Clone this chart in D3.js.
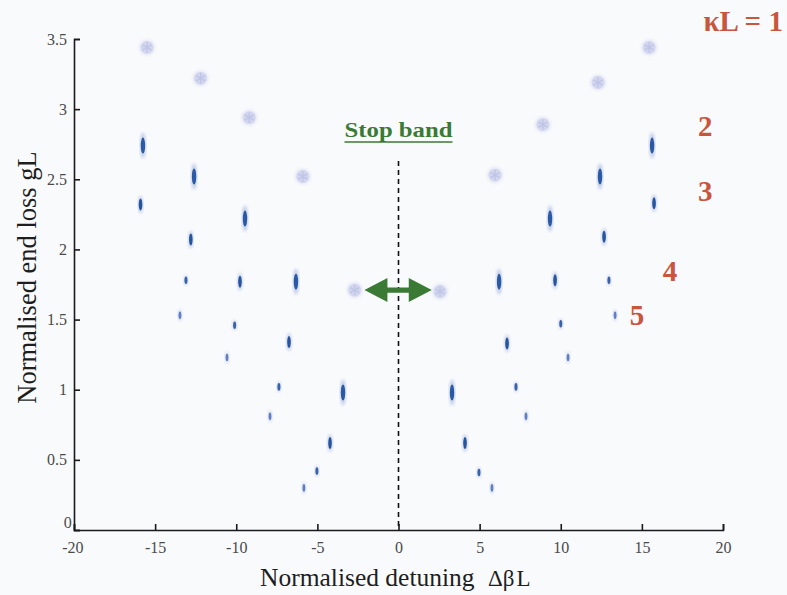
<!DOCTYPE html>
<html>
<head>
<meta charset="utf-8">
<script src="https://cdn.jsdelivr.net/npm/d3@7/dist/d3.min.js"></script>
<style>
  html, body { margin: 0; padding: 0; background: #f9fafc; }
  svg { display: block; }
</style>
</head>
<body>
<svg id="chart" width="787" height="595"></svg>
<script>
// Axis ticks
const detuningTicks = [-20, -15, -10, -5, 0, 5, 10, 15, 20];
const endLossTicks = [0, 0.5, 1, 1.5, 2, 2.5, 3, 3.5];

// Coupling strengths of the plotted mode families
const kappaL = [1, 2, 3, 4, 5];

// Threshold modes: normalised detuning ΔβL and normalised end loss gL
const detuningK1 = [-15.5, -12.2, -9.2, -5.9, -2.7, 2.56, 5.95, 8.9, 12.3, 15.45];
const lossK1     = [3.44, 3.22, 2.94, 2.52, 1.71, 1.70, 2.53, 2.89, 3.19, 3.44];

const detuningK2 = [-15.75, -12.6, -9.46, -6.32, -3.42, 3.3, 6.2, 9.34, 12.42, 15.63];
const lossK2     = [2.74, 2.52, 2.22, 1.77, 0.98, 0.98, 1.77, 2.22, 2.52, 2.74];

const detuningK3 = [-15.9, -12.8, -9.77, -6.75, -4.22, 4.1, 6.69, 9.65, 12.67, 15.75];
const lossK3     = [2.32, 2.07, 1.77, 1.34, 0.62, 0.62, 1.33, 1.78, 2.09, 2.33];

const detuningK4 = [-13.1, -10.1, -7.37, -5.03, 4.96, 7.24, 10.0, 12.97];
const lossK4     = [1.78, 1.46, 1.02, 0.42, 0.41, 1.02, 1.47, 1.78];

const detuningK5 = [-13.47, -10.57, -7.92, -5.83, 5.76, 7.86, 10.45, 13.35];
const lossK5     = [1.53, 1.23, 0.81, 0.30, 0.30, 0.81, 1.23, 1.53];

// Stop band arrow (detuning span) and its height
const stopBandSpan = [-2.1, 2.05];
const stopBandLoss = 1.71;

const detuningSets = [detuningK1, detuningK2, detuningK3, detuningK4, detuningK5];
const lossSets = [lossK1, lossK2, lossK3, lossK4, lossK5];

// Marker appearance for each κL family
const markerStyle = {
  1: { kind: "disc", r: 6.4, fill: "#d3d6ef", stroke: "#c0c5e6" },
  2: { kind: "streak", rx: 2.2, ry: 8, halo: 13, core: "#2c5aa5", glow: "#9cb0dc" },
  3: { kind: "streak", rx: 1.8, ry: 6, halo: 9, core: "#27549f", glow: "#a2b4dd" },
  4: { kind: "streak", rx: 1.5, ry: 3.8, halo: 5.5, core: "#3762ab", glow: "#afbfe2" },
  5: { kind: "streak", rx: 1.4, ry: 3.8, halo: 6, core: "#5f7fc1", glow: "#b9c7e7" }
};

const svg = d3.select("#chart");
const W = 787, H = 595;
const margin = { left: 74, right: 64, top: 39, bottom: 65 };

const x = d3.scaleLinear().domain([-20, 20]).range([margin.left, W - margin.right]);
const y = d3.scaleLinear().domain([0, 3.5]).range([H - margin.bottom, margin.top]);

const serif = "'Liberation Serif', 'Times New Roman', serif";

svg.append("rect").attr("width", W).attr("height", H).attr("fill", "#f9fafc");

const defs = svg.append("defs");
defs.append("filter").attr("id", "soft")
  .append("feGaussianBlur").attr("stdDeviation", 0.55);
defs.append("filter").attr("id", "haze")
  .append("feGaussianBlur").attr("stdDeviation", 1.4);

// Axes with inward ticks
const xAxis = d3.axisBottom(x).tickValues(detuningTicks).tickSize(-6).tickPadding(10)
  .tickFormat(d => String(d));
const yAxis = d3.axisLeft(y).tickValues(endLossTicks).tickSize(-6).tickPadding(7)
  .tickFormat(d => String(d));

const gx = svg.append("g").attr("transform", `translate(0,${y(0)})`).call(xAxis);
const gy = svg.append("g").attr("transform", `translate(${x(-20)},0)`).call(yAxis);

[gx, gy].forEach(g => {
  g.select(".domain").attr("stroke", "#1a1a1a").attr("stroke-width", 1.6);
  g.selectAll(".tick line").attr("stroke", "#1a1a1a").attr("stroke-width", 1.6);
  g.selectAll(".tick text").attr("font-family", serif).attr("font-size", 16)
    .attr("fill", "#4a4a4a");
});
gx.selectAll(".tick text").attr("dy", "0.8em");
gy.selectAll(".tick text").filter(d => d === 0).attr("dy", "-0.15em").attr("dx", "0.3em");
gx.selectAll(".tick text").filter(d => d === -20).attr("dx", "-0.1em");

// Axis titles
const xt = svg.append("text")
  .attr("x", x(-0.2)).attr("y", 586)
  .attr("text-anchor", "middle")
  .attr("font-family", serif).attr("font-size", 25.5).attr("fill", "#1e1e1e");
xt.append("tspan").text("Normalised detuning ");
xt.append("tspan").attr("dx", 7).attr("font-size", 23).text("Δβ");
xt.append("tspan").attr("dx", 2).attr("font-size", 23).text("L");

svg.append("text")
  .attr("transform", `translate(36,${y(1.8)}) rotate(-90)`)
  .attr("text-anchor", "middle")
  .attr("font-family", serif).attr("font-size", 26.5).attr("fill", "#1e1e1e")
  .text("Normalised end loss gL");

// Stop band centre line
svg.append("line")
  .attr("x1", x(0)).attr("x2", x(0))
  .attr("y1", y(2.63)).attr("y2", y(0))
  .attr("stroke", "#111").attr("stroke-width", 1.6)
  .attr("stroke-dasharray", "5,4");

// Modes
const marks = svg.append("g");
kappaL.forEach((k, i) => {
  const st = markerStyle[k];
  const pts = detuningSets[i].map((d, j) => ({ d, g: lossSets[i][j] }));
  const grp = marks.append("g");
  if (st.kind === "disc") {
    grp.selectAll("circle.halo").data(pts).join("circle")
      .attr("cx", p => x(p.d)).attr("cy", p => y(p.g))
      .attr("r", st.r + 1.5).attr("fill", st.fill).attr("opacity", 0.55)
      .attr("filter", "url(#haze)");
    grp.selectAll("circle.disc").data(pts).join("circle")
      .attr("cx", p => x(p.d)).attr("cy", p => y(p.g))
      .attr("r", st.r).attr("fill", st.fill).attr("filter", "url(#soft)");
    const star = d3.symbol().type(d3.symbolAsterisk).size(75);
    grp.selectAll("path.star").data(pts).join("path")
      .attr("transform", p => `translate(${x(p.d)},${y(p.g)})`)
      .attr("d", star).attr("fill", "none").attr("stroke", st.stroke)
      .attr("stroke-width", 1.4).attr("filter", "url(#soft)");
  } else {
    grp.selectAll("ellipse.halo").data(pts).join("ellipse")
      .attr("cx", p => x(p.d)).attr("cy", p => y(p.g))
      .attr("rx", st.rx + 0.8).attr("ry", st.halo)
      .attr("fill", st.glow).attr("opacity", 0.6).attr("filter", "url(#haze)");
    grp.selectAll("ellipse.core").data(pts).join("ellipse")
      .attr("cx", p => x(p.d)).attr("cy", p => y(p.g))
      .attr("rx", st.rx).attr("ry", st.ry)
      .attr("fill", st.core).attr("filter", "url(#soft)");
  }
});

// Stop band arrow
const green = "#3b7a35";
const ay = y(stopBandLoss);
const ax0 = x(stopBandSpan[0]), ax1 = x(stopBandSpan[1]);
const headLen = 23, headHalf = 12, shaftHalf = 2.6;
svg.append("path")
  .attr("d", [
    "M", ax0, ay,
    "L", ax0 + headLen, ay - headHalf,
    "L", ax0 + headLen, ay - shaftHalf,
    "L", ax1 - headLen, ay - shaftHalf,
    "L", ax1 - headLen, ay - headHalf,
    "L", ax1, ay,
    "L", ax1 - headLen, ay + headHalf,
    "L", ax1 - headLen, ay + shaftHalf,
    "L", ax0 + headLen, ay + shaftHalf,
    "L", ax0 + headLen, ay + headHalf, "Z"
  ].join(" "))
  .attr("fill", green).attr("filter", "url(#soft)");

// Stop band label
svg.append("text")
  .attr("x", x(0)).attr("y", 137)
  .attr("text-anchor", "middle")
  .attr("font-family", serif).attr("font-weight", "bold")
  .attr("font-size", 21).attr("fill", green)
  .attr("textLength", 108).attr("lengthAdjust", "spacingAndGlyphs")
  .text("Stop band");
svg.append("line")
  .attr("x1", x(0) - 54).attr("x2", x(0) + 54)
  .attr("y1", 142).attr("y2", 142)
  .attr("stroke", green).attr("stroke-width", 1.6);

// κL family labels
const red = "#c8563e";
const familyLabels = [
  { text: "κL = 1", d: 18.8, g: 3.555, anchor: "start" },
  { text: "2", d: 18.9, g: 2.81, anchor: "middle" },
  { text: "3", d: 18.9, g: 2.345, anchor: "middle" },
  { text: "4", d: 16.74, g: 1.775, anchor: "middle" },
  { text: "5", d: 14.7, g: 1.46, anchor: "middle" }
];
svg.append("g").selectAll("text").data(familyLabels).join("text")
  .attr("x", l => x(l.d)).attr("y", l => y(l.g))
  .attr("text-anchor", l => l.anchor)
  .attr("font-family", serif).attr("font-weight", "bold")
  .attr("font-size", 29).attr("fill", red)
  .text(l => l.text);
</script>
</body>
</html>
